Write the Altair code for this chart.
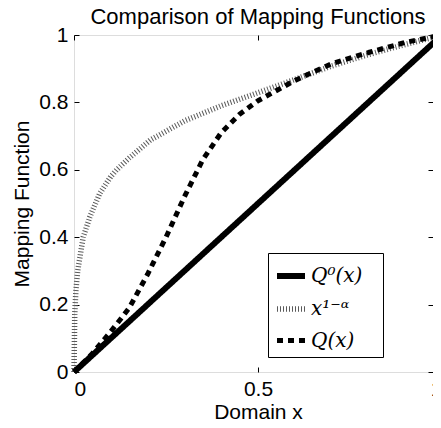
import altair as alt
import pandas as pd

# ---- data ----
series_names = ["Q⁰(x)", "x¹⁻ᵅ", "Q(x)"]

x_lin = [0.0, 1.0]
y_lin = [0.0, 1.0]

x_pow = [0.0, 0.002, 0.005, 0.01, 0.025, 0.043, 0.07, 0.1, 0.116, 0.15, 0.207,
         0.3, 0.4, 0.478, 0.6, 0.7, 0.8, 0.9, 1.0]
y_pow = [0.0, 0.17, 0.24, 0.3, 0.4, 0.46, 0.53, 0.58, 0.6, 0.635, 0.688,
         0.745, 0.79, 0.82, 0.868, 0.908, 0.942, 0.972, 1.0]

x_q = [0.0, 0.05, 0.1, 0.15, 0.2, 0.25, 0.3, 0.35, 0.4, 0.45, 0.5,
       0.6, 0.7, 0.8, 0.9, 1.0]
y_q = [0.0, 0.055, 0.12, 0.19, 0.29, 0.4, 0.52, 0.63, 0.71, 0.765, 0.805,
       0.865, 0.915, 0.948, 0.978, 1.0]

x_ticks = [0, 0.5, 1]
y_ticks = [0, 0.2, 0.4, 0.6, 0.8, 1]

rows = []
for name, xs_, ys_ in zip(series_names, [x_lin, x_pow, x_q], [y_lin, y_pow, y_q]):
    for i, (a, b) in enumerate(zip(xs_, ys_)):
        rows.append({"series": name, "x": a, "y": b, "i": i})
df = pd.DataFrame(rows)

FONT = "Liberation Sans"
FS = 21
W, H = 359, 337
XR = 368  # x=1 lies just past the visible right edge, as in the reference

xscale = alt.Scale(domain=[0, 1], nice=False, zero=False, range=[0, XR])
yscale = alt.Scale(domain=[0, 1], nice=False, zero=False)

legend = alt.Legend(
    title=None, orient="none", legendX=194, legendY=218,
    symbolType="stroke", symbolSize=784,
    labelFont="DejaVu Serif", labelFontStyle="italic", labelFontSize=20,
    labelColor="black", labelOffset=3,
    labelExpr="datum.label + '\u2800'",
    strokeColor="black", fillColor="white", padding=6, rowPadding=4,
    cornerRadius=0,
)

lines = alt.Chart(df).mark_line(strokeCap="butt", strokeJoin="round").encode(
    x=alt.X("x:Q", scale=xscale,
            axis=alt.Axis(orient="bottom", values=x_ticks, format="~g", title="Domain x",
                          domain=False, grid=False, offset=-5, tickSize=5, tickColor="black",
                          labelFont=FONT, labelFontSize=FS, labelColor="black", labelPadding=6,
                          titleFont=FONT, titleFontSize=FS, titleFontWeight="normal",
                          titleColor="black", titlePadding=2, titleX=XR / 2)),
    y=alt.Y("y:Q", scale=yscale,
            axis=alt.Axis(orient="left", values=y_ticks, format="~g", title="Mapping Function",
                          domain=False, grid=False, offset=-5, tickSize=5, tickColor="black",
                          labelFont=FONT, labelFontSize=FS, labelColor="black", labelPadding=6,
                          titleFont=FONT, titleFontSize=FS, titleFontWeight="normal",
                          titleColor="black", titlePadding=6)),
    color=alt.Color("series:N", scale=alt.Scale(domain=series_names, range=["black", "#5a5a5a", "black"]),
                    legend=legend),
    strokeDash=alt.StrokeDash("series:N", scale=alt.Scale(domain=series_names, range=[[1, 0], [1, 2], [6, 5]]),
                              legend=legend),
    strokeWidth=alt.StrokeWidth("series:N", scale=alt.Scale(domain=series_names, range=[6, 5, 6]),
                                legend=legend),
    order="i:Q",
)

frame = alt.Chart(df).mark_point(opacity=0).encode(
    x=alt.X("x:Q", scale=xscale,
            axis=alt.Axis(orient="top", values=x_ticks, labels=False, title=None, domain=False,
                          grid=False, offset=-5, tickSize=5, tickColor="black")),
    y=alt.Y("y:Q", scale=yscale,
            axis=alt.Axis(orient="right", values=y_ticks, labels=False, title=None, domain=False,
                          grid=False, offset=-5, tickSize=5, tickColor="black")),
)

chart = alt.layer(lines, frame).resolve_axis(x="independent", y="independent").properties(
    width=W, height=H,
    title=alt.TitleParams("Comparison of Mapping Functions", font=FONT, fontSize=22,
                          fontWeight="normal", color="black", anchor="middle", offset=11,
                          baseline="alphabetic", frame="group", dx=(XR - W) / 2, dy=33),
    padding={"left": 66, "top": 27, "right": 0, "bottom": 48},
    autosize="none",
).configure_view(stroke="black", strokeWidth=1, strokeDash=[W, H, 2 * (W + H)]).configure(background="white")

chart.save("out.html", embed_options={"renderer": "svg", "actions": False})
